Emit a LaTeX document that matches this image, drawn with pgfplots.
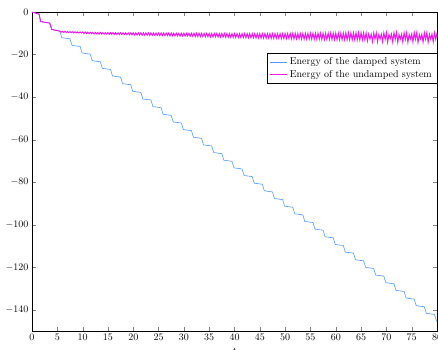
\documentclass[border=0pt]{standalone}
\usepackage{pgfplots}
\pgfplotsset{compat=1.18}
\usetikzlibrary{calc}
\definecolor{dampblue}{rgb}{0.3,0.6,1}
\definecolor{undmag}{rgb}{0.92,0.1,0.92}
\begin{document}
\begin{tikzpicture}
\begin{axis}[
  scale only axis,
  width=405pt, height=319pt,
  xmin=0, xmax=80, ymin=-150, ymax=0,
  xtick={0,5,...,80},
  ytick={-140,-120,...,0},
  xlabel={$t$},
  legend style={at={(1,0.87)}, anchor=north east, draw=black, fill=white},
  legend cell align=left,
]
\addplot[color=dampblue, line width=0.6pt] coordinates {
(0,0) (1.4,-1.0) (1.7,-4.5) (3.5,-5.2) (3.9,-8.2) (5.5,-9.0)
(5.9,-12.1) (7.5,-12.6) (7.9,-15.7) (9.5,-16.2) (9.9,-19.3)
(11.5,-19.8) (11.9,-22.9) (13.5,-23.4) (13.9,-26.5) (15.5,-27.0)
(15.9,-30.1) (17.5,-30.6) (17.9,-33.7) (19.5,-34.2) (19.9,-37.3)
(21.5,-37.8) (21.9,-40.9) (23.5,-41.4) (23.9,-44.5) (25.5,-45.0)
(25.9,-48.1) (27.5,-48.6) (27.9,-51.7) (29.5,-52.2) (29.9,-55.3)
(31.5,-55.8) (31.9,-58.9) (33.5,-59.4) (33.9,-62.5) (35.5,-63.0)
(35.9,-66.1) (37.5,-66.6) (37.9,-69.7) (39.5,-70.2) (39.9,-73.3)
(41.5,-73.8) (41.9,-76.9) (43.5,-77.4) (43.9,-80.5) (45.5,-81.0)
(45.9,-84.1) (47.5,-84.6) (47.9,-87.7) (49.5,-88.2) (49.9,-91.3)
(51.5,-91.8) (51.9,-94.9) (53.5,-95.4) (53.9,-98.5) (55.5,-99.0)
(55.9,-102.1) (57.5,-102.6) (57.9,-105.7) (59.5,-106.2) (59.9,-109.3)
(61.5,-109.8) (61.9,-112.9) (63.5,-113.4) (63.9,-116.5) (65.5,-117.0)
(65.9,-120.1) (67.5,-120.6) (67.9,-123.7) (69.5,-124.2) (69.9,-127.3)
(71.5,-127.8) (71.9,-130.9) (73.5,-131.4) (73.9,-134.5) (75.5,-135.0)
(75.9,-138.1) (77.5,-138.6) (77.9,-141.7) (79.5,-142.2) (79.9,-145.3)
(80,-145.4)
};
\addlegendentry{Energy of the damped system}
\addplot[color=undmag, line width=1pt] coordinates {
(0,0) (1.4,-1.0) (1.7,-4.5) (3.5,-5.2) (3.9,-8.2) (5.5,-9.0) (5.75,-9.5)
(6,-9.1) (6.25,-9.6) (6.5,-9.1) (6.75,-9.6)
(7,-9.2) (7.25,-9.7) (7.5,-9.2) (7.75,-9.7)
(8,-9.3) (8.25,-9.8) (8.5,-9.3) (8.75,-9.8)
(9,-9.4) (9.25,-9.9) (9.5,-9.4) (9.75,-9.9)
(10,-9.4) (10.25,-10.1) (10.5,-9.4) (10.75,-10.1)
(11,-9.5) (11.25,-10.2) (11.5,-9.5) (11.75,-10.2)
(12,-9.6) (12.25,-10.3) (12.5,-9.6) (12.75,-10.3)
(13,-9.6) (13.25,-10.4) (13.5,-9.6) (13.75,-10.4)
(14,-9.7) (14.25,-10.4) (14.5,-9.7) (14.75,-10.4)
(15,-9.7) (15.25,-10.5) (15.5,-9.7) (15.75,-10.5)
(16,-9.7) (16.25,-10.5) (16.5,-9.7) (16.75,-10.5)
(17,-9.8) (17.25,-10.6) (17.5,-9.8) (17.75,-10.6)
(18,-9.8) (18.25,-10.6) (18.5,-9.8) (18.75,-10.6)
(19,-9.8) (19.25,-10.7) (19.5,-9.8) (19.75,-10.7)
(20,-9.8) (20.25,-10.8) (20.5,-9.8) (20.75,-10.8)
(21,-9.8) (21.25,-10.9) (21.5,-9.8) (21.75,-10.9)
(22,-9.8) (22.25,-10.9) (22.5,-9.8) (22.75,-10.9)
(23,-9.8) (23.25,-11.0) (23.5,-9.8) (23.75,-11.0)
(24,-9.9) (24.25,-11.0) (24.5,-9.9) (24.75,-11.0)
(25,-9.9) (25.25,-11.1) (25.5,-9.9) (25.75,-11.1)
(26,-9.9) (26.25,-11.1) (26.5,-9.9) (26.75,-11.1)
(27,-9.9) (27.25,-11.2) (27.5,-9.9) (27.75,-11.2)
(28,-10.0) (28.25,-11.2) (28.5,-10.0) (28.75,-11.2)
(29,-10.0) (29.25,-11.3) (29.5,-10.0) (29.75,-11.3)
(30,-10.0) (30.25,-11.3) (30.5,-10.0) (30.75,-11.3)
(31,-10.0) (31.25,-11.4) (31.5,-10.0) (31.75,-11.4)
(32,-10.0) (32.25,-11.5) (32.5,-10.0) (32.75,-11.5)
(33,-10.0) (33.25,-11.5) (33.5,-10.0) (33.75,-11.5)
(34,-10.1) (34.25,-11.6) (34.5,-10.1) (34.75,-11.6)
(35,-10.1) (35.25,-11.7) (35.5,-10.1) (35.75,-11.7)
(36,-10.1) (36.25,-11.7) (36.5,-10.1) (36.75,-11.7)
(37,-10.1) (37.25,-11.8) (37.5,-10.1) (37.75,-11.8)
(38,-10.1) (38.25,-11.9) (38.5,-10.1) (38.75,-11.9)
(39,-10.2) (39.25,-11.9) (39.5,-10.2) (39.75,-11.9)
(40,-10.2) (40.25,-12.0) (40.5,-10.2) (40.75,-12.0)
(41,-10.2) (41.25,-12.0) (41.5,-10.2) (41.75,-12.0)
(42,-10.2) (42.25,-12.1) (42.5,-10.2) (42.75,-12.1)
(43,-10.2) (43.25,-12.1) (43.5,-10.2) (43.75,-12.1)
(44,-10.2) (44.25,-12.2) (44.5,-10.2) (44.75,-12.2)
(45,-10.2) (45.25,-12.3) (45.5,-10.2) (45.75,-12.3)
(46,-10.2) (46.25,-12.3) (46.5,-10.2) (46.75,-12.3)
(47,-10.2) (47.25,-12.4) (47.5,-10.2) (47.75,-12.4)
(48,-10.2) (48.25,-12.4) (48.5,-10.2) (48.75,-12.4)
(49,-10.2) (49.25,-12.5) (49.5,-10.2) (49.75,-12.5)
(50,-10.1) (50.25,-12.5) (50.5,-10.1) (50.75,-12.5)
(51,-10.1) (51.25,-12.6) (51.5,-10.1) (51.75,-12.6)
(52,-10.1) (52.25,-12.6) (52.5,-10.1) (52.75,-12.6)
(53,-10.1) (53.25,-12.7) (53.5,-10.1) (53.75,-12.7)
(54,-10.1) (54.25,-12.7) (54.5,-10.1) (54.75,-12.7)
(55,-10.0) (55.25,-12.8) (55.5,-10.0) (55.75,-12.8)
(56,-10.0) (56.25,-12.8) (56.5,-10.0) (56.75,-12.8)
(57,-10.0) (57.25,-12.9) (57.5,-10.0) (57.75,-12.9)
(58,-10.0) (58.25,-12.9) (58.5,-10.0) (58.75,-12.9)
(59,-9.9) (59.25,-12.9) (59.5,-9.9) (59.75,-12.9)
(60,-9.9) (60.25,-13.0) (60.5,-9.9) (60.75,-13.0)
(61,-9.9) (61.25,-13.0) (61.5,-9.9) (61.75,-13.0)
(62,-9.8) (62.25,-13.0) (62.5,-9.8) (62.75,-13.0)
(63,-9.8) (63.25,-13.1) (63.5,-9.8) (63.75,-13.1)
(64,-9.8) (64.25,-13.1) (64.5,-9.8) (64.75,-13.1)
(65,-9.8) (65.25,-13.1) (65.5,-9.8) (65.75,-13.1)
(66,-9.9) (66.25,-13.6) (66.5,-10.4) (66.75,-12.7)
(67,-10.5) (67.25,-13.9) (67.5,-9.9) (67.75,-12.8)
(68,-9.8) (68.25,-14.0) (68.5,-10.6) (68.75,-12.7)
(69,-10.5) (69.25,-13.9) (69.5,-9.9) (69.75,-12.8)
(70,-9.7) (70.25,-14.2) (70.5,-10.6) (70.75,-12.6)
(71,-10.4) (71.25,-14.0) (71.5,-9.8) (71.75,-12.8)
(72,-9.7) (72.25,-14.3) (72.5,-10.6) (72.75,-12.7)
(73,-10.5) (73.25,-14.1) (73.5,-9.8) (73.75,-12.9)
(74,-9.8) (74.25,-14.2) (74.5,-10.6) (74.75,-12.7)
(75,-10.4) (75.25,-14.0) (75.5,-9.7) (75.75,-12.8)
(76,-9.7) (76.25,-14.3) (76.5,-10.6) (76.75,-12.7)
(77,-10.5) (77.25,-14.1) (77.5,-9.8) (77.75,-12.8)
(78,-9.7) (78.25,-14.2) (78.5,-10.5) (78.75,-12.7)
(79,-10.4) (79.25,-14.0) (79.5,-9.8) (79.75,-12.8)
(80,-10.0)
};
\addlegendentry{Energy of the undamped system}
\end{axis}
\pgfresetboundingbox
\useasboundingbox ($(current axis.south west)+(-32pt,-18pt)$) rectangle ($(current axis.north east)+(1pt,12pt)$);
\end{tikzpicture}
\end{document}
